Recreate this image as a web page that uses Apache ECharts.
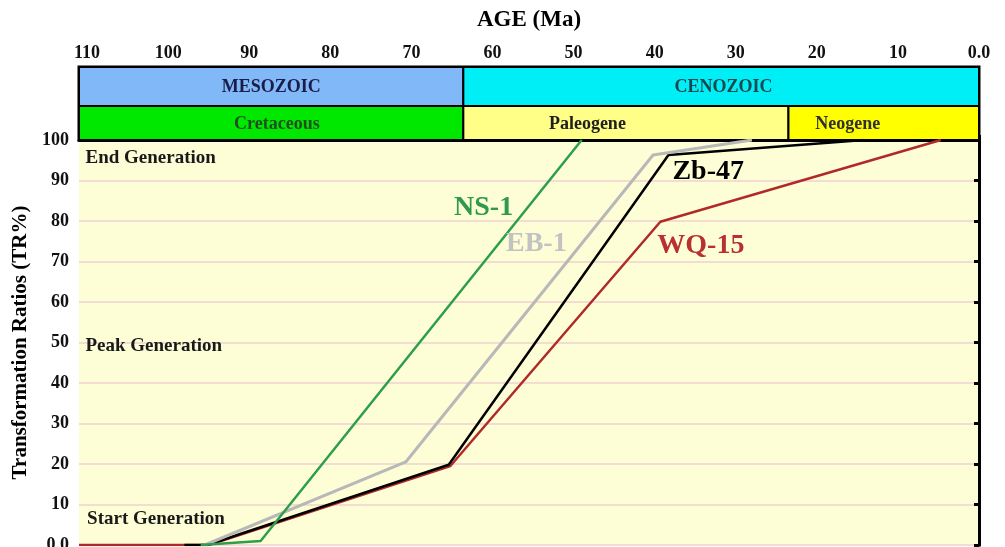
<!DOCTYPE html>
<html>
<head>
<meta charset="utf-8">
<script src="https://cdn.jsdelivr.net/npm/echarts@6/dist/echarts.min.js"></script>
<style>
  html, body { margin: 0; padding: 0; background: #ffffff; overflow: hidden; }
  #chart { width: 1005px; height: 547px; }
</style>
</head>
<body>
<div id="chart"></div>
<script>
// ---- Data (age in Ma, transformation ratio in %) ----
const ageMax = 111;
const ageTicks = [0, 10, 20, 30, 40, 50, 60, 70, 80, 90, 100, 110];
const trTicks = [0, 10, 20, 30, 40, 50, 60, 70, 80, 90, 100];

// Transformation-ratio histories of each well: [age, TR%]
const ns1  = [[96, 0], [88.6, 1], [49, 100]];
const eb1  = [[95.5, 0], [70.7, 20.5], [40.2, 96.3], [28, 100]];
const zb47 = [[98, 0], [95.2, 0], [65.4, 19.8], [38.3, 96.3], [14.2, 100]];
const wq15 = [[111, 0], [95, 0], [65.2, 19.5], [39.3, 79.8], [4.7, 100]];

// Geological time scale
const eraNames = ['MESOZOIC', 'CENOZOIC'];
const eraFrom  = [111, 63.6];
const eraTo    = [63.6, 0];
const eraLabelAge = [87.3, 31.5];
const periodNames = ['Cretaceous', 'Paleogene', 'Neogene'];
const periodFrom  = [111, 63.6, 23.5];
const periodTo    = [63.6, 23.5, 0];
const periodLabelAge = [86.6, 48.3, 16.2];

// Well name labels: [age, TR%]
const wellNames = ['NS-1', 'EB-1', 'Zb-47', 'WQ-15'];
const wellLabelPos = [[61.1, 83.3], [54.6, 74.4], [33.4, 92.2], [34.3, 74.0]];

// Generation stage labels: [age, TR%]
const stageNames = ['End Generation', 'Peak Generation', 'Start Generation'];
const stageLabelPos = [[110.2, 95.6], [110.2, 49.0], [110.0, 6.3]];

// ---- Styling ----
const serif = '"Liberation Serif", "Times New Roman", serif';
const eraColors = ['#80b8f8', '#00eef6'];
const eraTextColors = ['#1c1c48', '#1a4850'];
const periodColors = ['#00e800', '#ffff88', '#ffff00'];
const periodTextColors = ['#1f4f1f', '#202020', '#303030'];
const wellColors = ['#2e9e4c', '#b8b8b8', '#000000', '#b02a2a'];
const wellLabelColors = ['#2e9a4a', '#c2c2c2', '#000000', '#b83030'];

// rows of the time-scale band (value range of its hidden y axis)
const ERA_ROW = [0.465, 1];
const PERIOD_ROW = [0, 0.465];

const bandData = [];
eraNames.forEach((n, i) => bandData.push([eraFrom[i], eraTo[i], 0, eraLabelAge[i], n, eraColors[i], eraTextColors[i]]));
periodNames.forEach((n, i) => bandData.push([periodFrom[i], periodTo[i], 1, periodLabelAge[i], n, periodColors[i], periodTextColors[i]]));

function renderBand(params, api) {
  const item = bandData[params.dataIndex];
  const row = item[2] === 0 ? ERA_ROW : PERIOD_ROW;
  const a = api.coord([api.value(0), row[1]]);
  const b = api.coord([api.value(1), row[0]]);
  const x = Math.min(a[0], b[0]), y = Math.min(a[1], b[1]);
  const w = Math.abs(b[0] - a[0]), h = Math.abs(b[1] - a[1]);
  const tx = api.coord([api.value(3), row[0]])[0];
  return {
    type: 'group',
    children: [
      { type: 'rect', shape: { x, y, width: w, height: h },
        style: { fill: item[5], stroke: '#000', lineWidth: 2 } },
      { type: 'text',
        style: { text: item[4], x: tx, y: y + h / 2 + 1, align: 'center', verticalAlign: 'middle',
                 font: 'bold 18px ' + serif, fill: item[6] } }
    ]
  };
}

const lineSeries = [
  { name: 'WQ-15', data: wq15, color: wellColors[3], width: 2.5 },
  { name: 'Zb-47', data: zb47, color: wellColors[2], width: 2.5 },
  { name: 'EB-1',  data: eb1,  color: wellColors[1], width: 3 },
  { name: 'NS-1',  data: ns1,  color: wellColors[0], width: 2.5 }
].map(s => ({
  type: 'line', name: s.name, xAxisIndex: 1, yAxisIndex: 1, data: s.data,
  showSymbol: false, symbol: 'none', silent: true, z: 3,
  lineStyle: { color: s.color, width: s.width }
}));

const wellLabelData = wellNames.map((n, i) => ({
  value: wellLabelPos[i], name: n,
  label: { color: wellLabelColors[i] }
}));
const stageLabelData = stageNames.map((n, i) => ({ value: stageLabelPos[i], name: n }));

const chart = echarts.init(document.getElementById('chart'), null, { renderer: 'canvas' });
chart.setOption({
  animation: false,
  backgroundColor: '#ffffff',
  grid: [
    { left: 79, right: 26, top: 67, height: 73, show: true, borderColor: '#000', borderWidth: 3,
      backgroundColor: 'transparent', outerBoundsMode: 'none' },
    { left: 79, right: 26, top: 140, height: 405, show: true, borderWidth: 0,
      backgroundColor: '#fefed6', outerBoundsMode: 'none' }
  ],
  xAxis: [
    {
      type: 'value', gridIndex: 0, position: 'top', inverse: true,
      min: 0, max: ageMax, interval: 10,
      name: 'AGE (Ma)', nameLocation: 'middle', nameGap: 35,
      nameTextStyle: { fontFamily: serif, fontWeight: 'bold', fontSize: 23, color: '#000' },
      axisLine: { show: true, lineStyle: { color: '#000', width: 3 } },
      axisTick: { show: true, length: 5, lineStyle: { color: '#000', width: 3 } },
      axisLabel: {
        margin: 5, fontFamily: serif, fontWeight: 'bold', fontSize: 18, color: '#111',
        showMinLabel: true, showMaxLabel: true,
        formatter: v => (ageTicks.indexOf(v) < 0 ? '' : (v === 0 ? '0.0' : String(v)))
      },
      splitLine: { show: false }
    },
    {
      type: 'value', gridIndex: 1, inverse: true, min: 0, max: ageMax, interval: 10,
      show: false, splitLine: { show: false }
    }
  ],
  yAxis: [
    { type: 'value', gridIndex: 0, min: 0, max: 1, show: false, splitLine: { show: false } },
    {
      type: 'value', gridIndex: 1, min: 0, max: 100, interval: 10, position: 'left',
      name: 'Transformation Ratios (TR%)', nameLocation: 'middle', nameRotate: 90, nameGap: 44,
      nameTextStyle: { fontFamily: serif, fontWeight: 'bold', fontSize: 21, color: '#000' },
      axisLine: { show: true, lineStyle: { color: '#000', width: 3 } },
      axisTick: { show: true, length: 5, lineStyle: { color: '#000', width: 3 } },
      axisLabel: {
        margin: 10, fontFamily: serif, fontWeight: 'bold', fontSize: 18, color: '#111',
        formatter: v => (v === 0 ? '0.0' : String(v))
      },
      splitLine: { show: true, lineStyle: { color: '#f3ddd3', width: 2 } }
    },
    {
      type: 'value', gridIndex: 1, min: 0, max: 100, interval: 10, position: 'right',
      axisLine: { show: true, lineStyle: { color: '#000', width: 3 } },
      axisTick: { show: true, inside: true, length: 2, lineStyle: { color: '#000', width: 2 } },
      axisLabel: { show: false }, splitLine: { show: false }
    }
  ],
  series: [
    {
      type: 'custom', xAxisIndex: 0, yAxisIndex: 0, silent: true,
      data: bandData.map(d => [d[0], d[1], d[2], d[3]]),
      encode: { x: [0, 1, 3], y: 2 },
      renderItem: renderBand
    },
    ...lineSeries,
    {
      type: 'scatter', name: 'wells', xAxisIndex: 1, yAxisIndex: 1, symbolSize: 0, silent: true, z: 5,
      itemStyle: { opacity: 1 },
      data: wellLabelData,
      label: { show: true, position: 'inside', formatter: p => p.name,
               fontFamily: serif, fontWeight: 'bold', fontSize: 28 }
    },
    {
      type: 'scatter', name: 'stages', xAxisIndex: 1, yAxisIndex: 1, symbolSize: 0, silent: true, z: 5,
      itemStyle: { opacity: 1 },
      data: stageLabelData,
      label: { show: true, position: 'right', distance: 0, formatter: p => p.name,
               fontFamily: serif, fontWeight: 'bold', fontSize: 19, color: '#1a1a1a' }
    }
  ]
});
</script>
</body>
</html>
